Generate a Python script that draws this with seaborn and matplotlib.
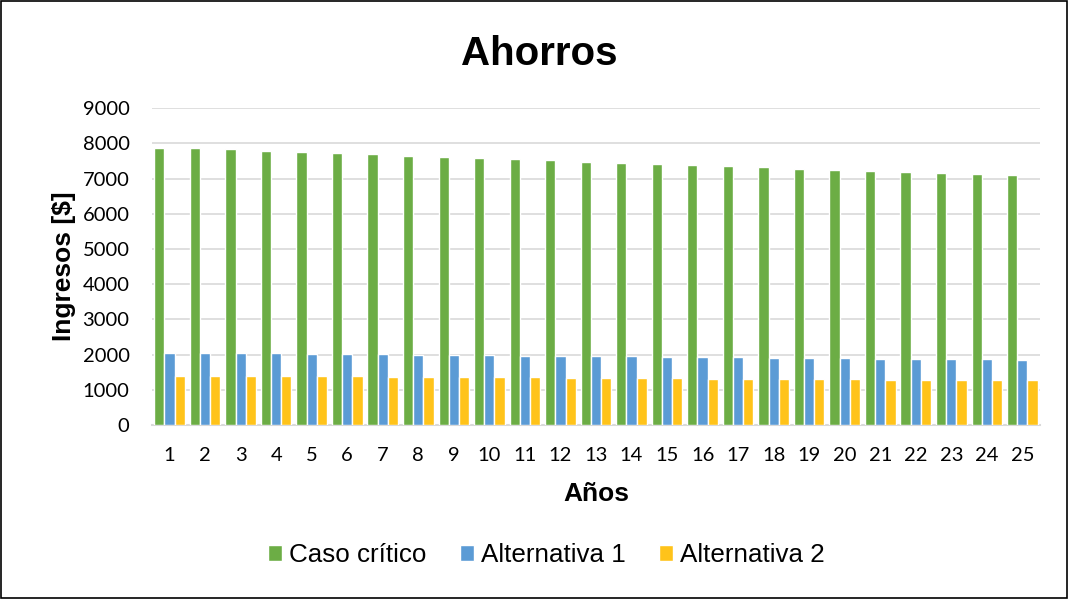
import matplotlib
matplotlib.use("Agg")
import matplotlib.pyplot as plt
import pandas as pd
import seaborn as sns
from matplotlib.patches import Rectangle

YEARS = list(range(1, 26))
CASO_CRITICO = [7870, 7865, 7840, 7780, 7750, 7720, 7690, 7640, 7610, 7580,
                7550, 7520, 7470, 7440, 7410, 7380, 7350, 7325, 7270, 7240,
                7210, 7180, 7150, 7120, 7090]
ALTERNATIVA_1 = [2050, 2050, 2050, 2050, 2020, 2020, 2020, 1990, 1990, 1990,
                 1960, 1960, 1960, 1960, 1930, 1930, 1930, 1900, 1900, 1900,
                 1870, 1870, 1870, 1870, 1840]
ALTERNATIVA_2 = [1390, 1390, 1390, 1390, 1390, 1390, 1360, 1360, 1360, 1360,
                 1360, 1330, 1330, 1330, 1330, 1305, 1305, 1305, 1305, 1305,
                 1280, 1280, 1280, 1280, 1280]
SERIES = ["Caso crítico", "Alternativa 1", "Alternativa 2"]
COLORS = ["#6cad45", "#5b9bd5", "#ffc31a"]

df = pd.DataFrame({
    "Año": YEARS * 3,
    "Serie": [SERIES[0]] * 25 + [SERIES[1]] * 25 + [SERIES[2]] * 25,
    "Valor": CASO_CRITICO + ALTERNATIVA_1 + ALTERNATIVA_2,
})

sns.set_theme(style="white")
plt.rcParams["font.family"] = ["Liberation Sans", "DejaVu Sans"]
plt.rcParams["text.color"] = "black"
plt.rcParams["axes.labelcolor"] = "black"

fig = plt.figure(figsize=(10.69, 5.99), dpi=100)
ax = fig.add_axes([0.142, 0.2905, 0.831, 0.529])

sns.barplot(data=df, x="Año", y="Valor", hue="Serie", palette=COLORS,
            saturation=1, width=0.86, edgecolor="white", linewidth=1,
            ax=ax, legend=True, zorder=3)

ax.set_ylim(0, 9000)
ax.set_yticks(range(0, 9001, 1000))
ax.yaxis.grid(True, color="#d9d9d9", linewidth=1.2, zorder=0)
ax.set_axisbelow(True)
for s in ["top", "right", "left"]:
    ax.spines[s].set_visible(False)
ax.spines["bottom"].set_color("#d9d9d9")
ax.spines["bottom"].set_linewidth(1.5)
ax.tick_params(axis="both", length=0, labelsize=14.5, colors="black")
ax.tick_params(axis="x", pad=16)
ax.tick_params(axis="y", pad=16)
for lbl in ax.get_xticklabels() + ax.get_yticklabels():
    lbl.set_family(["Lato", "DejaVu Sans"])
ax.set_xlim(-0.5, 24.5)

fig.text(0.504, 0.91, "Ahorros", fontsize=29, fontweight="bold",
         ha="center", va="center")
ax.set_xlabel("Años", fontsize=19, fontweight="bold", labelpad=13)
ax.set_ylabel("Ingresos [$]", fontsize=19, fontweight="bold", labelpad=5)

ax.legend(loc="center", bbox_to_anchor=(0.444, -0.41), ncol=3,
          frameon=False, fontsize=18.7, handlelength=0.55, handleheight=0.55,
          handletextpad=0.25, columnspacing=1.3)

fig.patches.append(Rectangle((0.001, 0.001), 0.997, 0.997, transform=fig.transFigure,
                             fill=False, edgecolor="black", linewidth=1.2))

fig.savefig("out.png", dpi=100)
